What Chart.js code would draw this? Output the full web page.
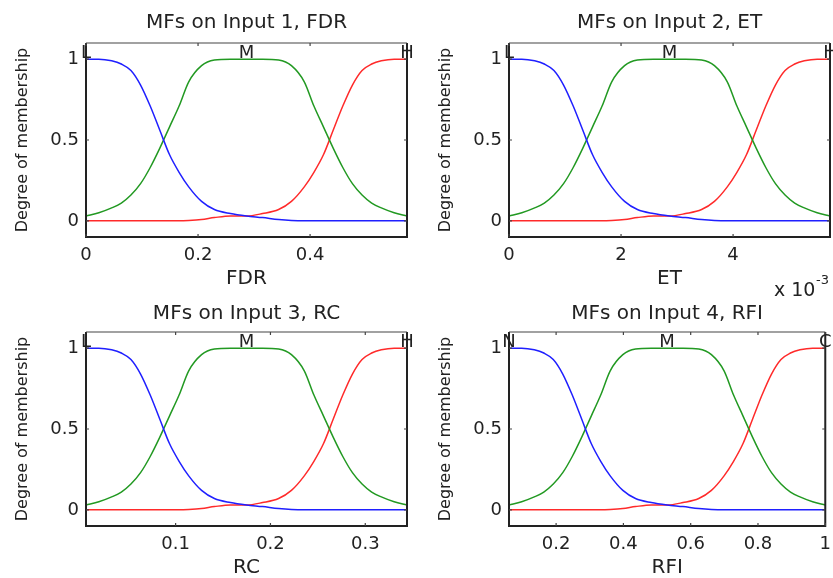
<!DOCTYPE html>
<html>
<head>
<meta charset="utf-8">
<script src="https://cdn.jsdelivr.net/npm/chart.js@4.4.1/dist/chart.umd.min.js"></script>
<style>
  html, body { margin: 0; padding: 0; background: #fff; overflow: hidden; }
  body { width: 833px; height: 578px; position: relative; }
  canvas { position: absolute; }
</style>
</head>
<body>
<canvas id="c1" width="416" height="300" style="left:0;top:0"></canvas>
<canvas id="c2" width="416" height="300" style="left:423px;top:0"></canvas>
<canvas id="c3" width="416" height="300" style="left:0;top:289px"></canvas>
<canvas id="c4" width="416" height="300" style="left:423px;top:289px"></canvas>
<script>
// panels
const titles = ['MFs on Input 1, FDR', 'MFs on Input 2, ET', 'MFs on Input 3, RC', 'MFs on Input 4, RFI'];
const axisNames = ['FDR', 'ET', 'RC', 'RFI'];
const ranges = [[0, 0.573], [0, 5.73], [0.0055, 0.344], [0.06, 1.0]];   // ET in units of 1e-3
const xTicks = [[0, 0.2, 0.4], [0, 2, 4], [0.1, 0.2, 0.3], [0.2, 0.4, 0.6, 0.8, 1]];
const mfNames = [['L', 'M', 'H'], ['L', 'M', 'H'], ['L', 'M', 'H'], ['N', 'M', 'C']];
const yTicks = [0, 0.5, 1];

// membership curves, same shape on every input
// pos = fraction of the input range (0 = left end, 1 = right end)
const pos    = [0, 0.04, 0.08, 0.11, 0.14, 0.17, 0.2, 0.23, 0.26, 0.29, 0.32, 0.36, 0.4, 0.45, 0.5,
                0.55, 0.6, 0.64, 0.68, 0.71, 0.74, 0.77, 0.8, 0.83, 0.86, 0.89, 0.92, 0.96, 1];
const lowMF  = [1, 1, 0.99, 0.97, 0.93, 0.84, 0.71, 0.56, 0.41, 0.3, 0.21, 0.12, 0.07, 0.045, 0.03,
                0.02, 0.008, 0.002, 0, 0, 0, 0, 0, 0, 0, 0, 0, 0, 0];
const midMF  = [0.03, 0.05, 0.08, 0.11, 0.16, 0.23, 0.33, 0.45, 0.58, 0.71, 0.86, 0.96, 0.995, 1, 1,
                1, 0.995, 0.96, 0.86, 0.71, 0.58, 0.45, 0.33, 0.23, 0.16, 0.11, 0.08, 0.05, 0.03];
const highMF = [0, 0, 0, 0, 0, 0, 0, 0, 0, 0, 0.002, 0.008, 0.02, 0.03, 0.03,
                0.045, 0.07, 0.12, 0.21, 0.3, 0.41, 0.56, 0.71, 0.84, 0.93, 0.97, 0.99, 1, 1];
const peakPos = [0, 0.5, 1];

const FONT = '"DejaVu Sans", Arial, sans-serif';
const INK = '#222';

// title over the plot, box round it, inward ticks, MF names, exponent
const frame = {
  id: 'frame',
  afterDatasetsDraw(chart, args, opts) {
    const { ctx, chartArea: a, scales } = chart;
    const sx = scales.x, sy = scales.y;
    ctx.save();
    ctx.strokeStyle = INK;
    ctx.lineWidth = 2;
    ctx.beginPath();
    ctx.moveTo(a.left, a.top); ctx.lineTo(a.left, a.bottom);
    ctx.lineTo(a.right, a.bottom); ctx.lineTo(a.right, a.top);
    ctx.stroke();
    ctx.lineWidth = 1.2;
    ctx.strokeStyle = '#444';
    ctx.beginPath();
    ctx.moveTo(a.left, a.top); ctx.lineTo(a.right, a.top);
    sx.ticks.forEach(t => {
      const px = sx.getPixelForValue(t.value);
      ctx.moveTo(px, a.bottom); ctx.lineTo(px, a.bottom - 3);
      ctx.moveTo(px, a.top); ctx.lineTo(px, a.top + 3);
    });
    sy.ticks.forEach(t => {
      const py = sy.getPixelForValue(t.value);
      ctx.moveTo(a.left, py); ctx.lineTo(a.left + 3, py);
      ctx.moveTo(a.right, py); ctx.lineTo(a.right - 3, py);
    });
    ctx.stroke();

    ctx.fillStyle = INK;
    ctx.textAlign = 'center';
    ctx.textBaseline = 'alphabetic';
    ctx.font = '20px ' + FONT;
    ctx.fillText(opts.title, (a.left + a.right) / 2, opts.titleY);

    ctx.font = '18px ' + FONT;
    const [lo, hi] = opts.range;
    const y1 = sy.getPixelForValue(1);
    opts.names.forEach((n, i) => {
      ctx.fillText(n, sx.getPixelForValue(lo + peakPos[i] * (hi - lo)), y1 - 1);
    });

    if (opts.exponent) {
      ctx.textAlign = 'left';
      ctx.font = '19px ' + FONT;
      ctx.fillText('x 10', 351, 296);
      ctx.font = '13px ' + FONT;
      ctx.fillText(opts.exponent, 393, 284);
    }
    ctx.restore();
  }
};

function makePanel(id, i) {
  const [lo, hi] = ranges[i];
  const toPts = vals => pos.map((p, k) => ({ x: lo + p * (hi - lo), y: vals[k] }));
  const line = (vals, color) => ({
    data: toPts(vals),
    borderColor: color,
    borderWidth: 1.5,
    pointRadius: 0,
    cubicInterpolationMode: 'monotone',
    fill: false
  });

  new Chart(document.getElementById(id), {
    type: 'line',
    data: {
      datasets: [
        line(lowMF, '#1f1fff'),
        line(midMF, '#229922'),
        line(highMF, '#ff2a2a')
      ]
    },
    options: {
      responsive: false,
      animation: false,
      events: [],
      layout: { padding: { left: 0, right: 9, top: 43, bottom: 0 } },
      plugins: {
        legend: { display: false },
        tooltip: { enabled: false },
        title: { display: false },
        frame: {
          title: titles[i],
          titleY: i < 2 ? 28 : 30,
          names: mfNames[i],
          range: ranges[i],
          exponent: i === 1 ? '-3' : null
        }
      },
      scales: {
        x: {
          type: 'linear',
          min: lo,
          max: hi,
          grid: { display: false, drawTicks: false },
          border: { display: false },
          afterBuildTicks: s => { s.ticks = xTicks[i].map(v => ({ value: v })); },
          afterFit: s => { s.height = 63; },
          ticks: {
            color: INK,
            font: { family: FONT, size: 18 },
            padding: 8,
            maxRotation: 0,
            autoSkip: false,
            callback: v => String(v)
          },
          title: {
            display: true,
            text: axisNames[i],
            color: INK,
            font: { family: FONT, size: 20 },
            padding: { top: 0, bottom: 9 }
          }
        },
        y: {
          min: -0.1,
          max: 1.1,
          grid: { display: false, drawTicks: false },
          border: { display: false },
          afterBuildTicks: s => { s.ticks = yTicks.map(v => ({ value: v })); },
          afterFit: s => { s.width = 86; },
          ticks: {
            color: INK,
            font: { family: FONT, size: 18 },
            padding: 7,
            callback: v => String(v)
          },
          title: {
            display: true,
            text: 'Degree of membership',
            color: INK,
            font: { family: FONT, size: 16 },
            padding: { top: 13, bottom: 0 }
          }
        }
      }
    },
    plugins: [frame]
  });
}

['c1', 'c2', 'c3', 'c4'].forEach(makePanel);
</script>
</body>
</html>
